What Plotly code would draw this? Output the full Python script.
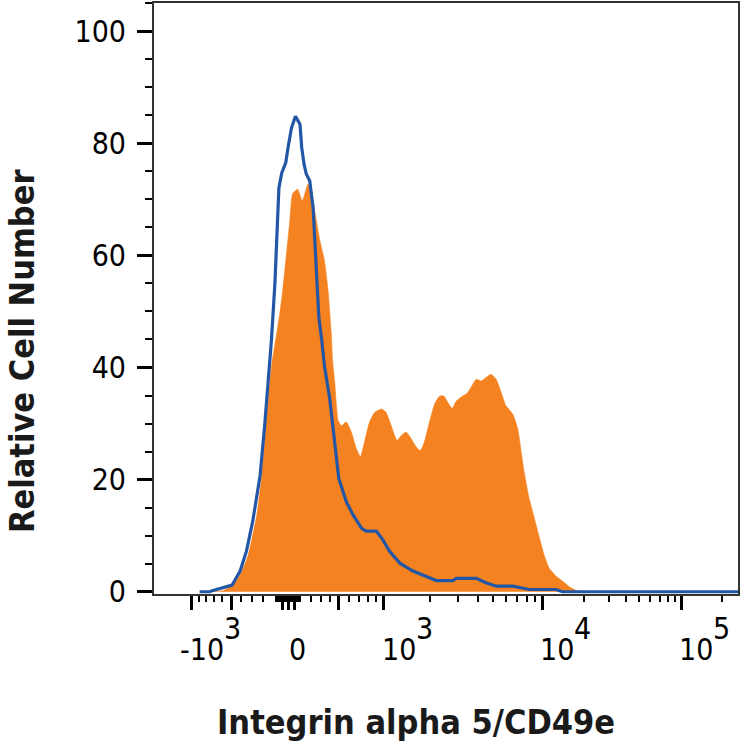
import numpy as np
import plotly.graph_objects as go

# Display scale of the x axis (biexponential-like), anchors
ANCHOR_VALUES = [-1000, -500, 0, 500, 1000, 1e4, 1e5, 2e5]
ANCHOR_CHANNELS = [66.5, 136.5, 236, 323.8, 402.6, 680.9, 924.2, 996]

# Tick values (fluorescence intensity)
MAJOR_VALUES = [-1000, -500, -50, 0, 50, 500, 1000, 1e4, 1e5]
MINOR_VALUES = ([-900, -800, -700, -600, -400, -300, -200]
                + [-100, -90, -80, -70, -60, -40, -30, -20, -10,
                   10, 20, 30, 40, 60, 70, 80, 90, 100]
                + [200, 300, 400, 600, 700, 800, 900]
                + [2000, 3000, 4000, 5000, 6000, 7000, 8000, 9000]
                + [2e4, 3e4, 4e4, 5e4, 6e4, 7e4, 8e4, 9e4, 2e5])
LABEL_VALUES = [-1000, 0, 1000, 1e4, 1e5]
LABEL_BASE = ["-10", "0", "10", "10", "10"]
LABEL_EXP = ["3", "", "3", "4", "5"]

# Histograms, x in display channels (0-1024), y = relative cell number
isotype_ch = [80, 98, 102, 121, 137, 151, 162, 173, 186, 194,
              202, 206, 212, 216, 219, 224, 231, 235, 241,
              248, 252, 256, 259, 263, 267, 273, 279, 285, 289,
              294, 299, 308, 317, 324, 337, 349, 364, 372, 390,
              401, 413, 431, 454, 477, 495, 524, 530, 565, 582,
              600, 629, 658, 705, 716, 1024]
isotype_y = [0, 0, 0.2, 0.7, 1.2, 3.7, 7.2, 12.5, 20.7, 29.6,
             40.2, 45, 55, 64, 72, 74.7, 76.5, 79.2, 82.7,
             84.8, 84, 83.4, 79.2, 76.3, 74.5, 73.3, 68.5, 57.9, 49,
             45, 40.2, 34.5, 27, 20.2, 16.1, 13.7, 11.3, 10.8, 10.8,
             9.3, 7.2, 5.1, 3.7, 2.8, 2.0, 2.0, 2.4, 2.4, 1.6,
             1.0, 1.0, 0.4, 0.4, 0, 0]

stained_ch = [98, 121, 138, 151, 165, 180, 189, 197, 206, 215,
              221, 226, 232, 238, 243, 252, 260, 270, 278, 291,
              299, 305, 311, 313, 317, 323, 329, 337, 346, 355,
              362, 369, 378, 387, 399, 407, 416, 426, 434, 442,
              451, 460, 467, 474, 483, 492, 501, 508, 515, 523,
              530, 541, 550, 559, 565, 574, 582, 591, 600, 609,
              617, 629, 638, 644, 649, 658, 667, 676, 684, 693,
              705, 716, 731, 746]
stained_y = [0, 0.2, 1.2, 3, 6.5, 13.6, 20.7, 30.8, 40.2, 46,
             50, 54, 60, 66, 71, 71.8, 69.7, 72.7, 70, 62.6,
             59, 54, 46, 41.4, 37.3, 30.5, 29.6, 30.3, 28.5, 25.5,
             24.1, 26.7, 30.3, 32, 32.6, 32, 29.6, 27, 27.9, 28.5,
             27.3, 25.8, 25.2, 26.7, 30.3, 33.5, 34.9, 34.9, 33.8, 32.7,
             34, 34.9, 35.5, 37, 37.9, 37.6, 38.2, 38.8, 37.9, 35.5,
             33.2, 31.7, 29, 24.9, 21.4, 16.6, 13.1, 9.6, 6.6, 4.2,
             2.8, 1.9, 0.7, 0]

Y_MAJOR = [0, 20, 40, 60, 80, 100]
Y_MINOR = [5, 10, 15, 25, 30, 35, 45, 50, 55, 65, 70, 75, 85, 90, 95, 105]


def to_channel(v):
    # piecewise interpolation in asinh space between the anchor ticks
    u = np.arcsinh(np.asarray(v, dtype=float) / 500)
    ua = np.arcsinh(np.asarray(ANCHOR_VALUES, dtype=float) / 500)
    return np.interp(u, ua, ANCHOR_CHANNELS)


FONT = "Liberation Sans Narrow, Arial Narrow, DejaVu Sans Condensed, sans-serif"
ORANGE = "#F58220"
BLUE = "#2357A6"

fig = go.Figure()
fig.add_trace(go.Scatter(
    x=stained_ch, y=stained_y,
    mode='lines', fill='tozeroy', fillcolor=ORANGE,
    line=dict(color=ORANGE, width=0.5, shape='spline', smoothing=0.5),
    name="Integrin alpha 5/CD49e", showlegend=False
))
fig.add_trace(go.Scatter(
    x=isotype_ch, y=isotype_y,
    mode='lines',
    line=dict(color=BLUE, width=3.2),
    name="Isotype control", showlegend=False
))

# x tick labels: base and raised exponent
annotations = []
for v, base, exp in zip(LABEL_VALUES, LABEL_BASE, LABEL_EXP):
    xc = float(to_channel(v))
    shift = -14 if base.startswith("-") else (-2 if base == "0" else -4)
    annotations.append(dict(
        x=xc, y=0, xref='x', yref='paper', text=base, showarrow=False,
        xanchor='left', yanchor='middle', xshift=shift, yshift=-55,
        font=dict(family=FONT, size=30, color="black")
    ))
    if exp:
        annotations.append(dict(
            x=xc, y=0, xref='x', yref='paper', text=exp, showarrow=False,
            xanchor='left', yanchor='middle', xshift=30, yshift=-34,
            font=dict(family=FONT, size=30, color="black")
        ))

# axis titles
annotations.append(dict(
    x=0.448, y=0, xref='paper', yref='paper', text="<b>Integrin alpha 5/CD49e</b>",
    showarrow=False, xanchor='center', yanchor='middle', yshift=-128,
    font=dict(family=FONT, size=34, color="#1a1a1a")
))
annotations.append(dict(
    x=0, y=0.411, xref='paper', yref='paper', text="<b>Relative Cell Number</b>",
    showarrow=False, xanchor='center', yanchor='middle', xshift=-132, textangle=-90,
    font=dict(family=FONT, size=34, color="#1a1a1a")
))

fig.update_layout(
    width=741, height=745,
    margin=dict(l=154, r=2, t=1, b=151),
    paper_bgcolor="white", plot_bgcolor="white",
    showlegend=False,
    annotations=annotations,
    xaxis=dict(
        range=[0, 1024],
        showgrid=False, zeroline=False,
        showline=True, linecolor="#333", linewidth=2, mirror=True,
        tickmode='array', tickvals=[float(c) for c in to_channel(MAJOR_VALUES)],
        ticks='outside', ticklen=14, tickwidth=3, tickcolor="black",
        showticklabels=False,
        minor=dict(tickmode='array', tickvals=[float(c) for c in to_channel(MINOR_VALUES)],
                   ticks='outside', ticklen=6, tickwidth=2, tickcolor="black",
                   showgrid=False),
    ),
    yaxis=dict(
        range=[-0.4, 105],
        showgrid=False, zeroline=False,
        showline=True, linecolor="#333", linewidth=2, mirror=True,
        tickmode='array', tickvals=Y_MAJOR,
        ticks='outside', ticklen=15, tickwidth=3, tickcolor="black",
        ticklabelstandoff=5,
        tickfont=dict(family=FONT, size=30, color="black"),
        minor=dict(tickmode='array', tickvals=Y_MINOR,
                   ticks='outside', ticklen=7, tickwidth=2, tickcolor="black",
                   showgrid=False),
    ),
)

# drop the page's default body margin so the figure sits at the window corner
fig.write_html("out.html", config={'displayModeBar': False},
               post_script="document.body.style.margin='0';")
